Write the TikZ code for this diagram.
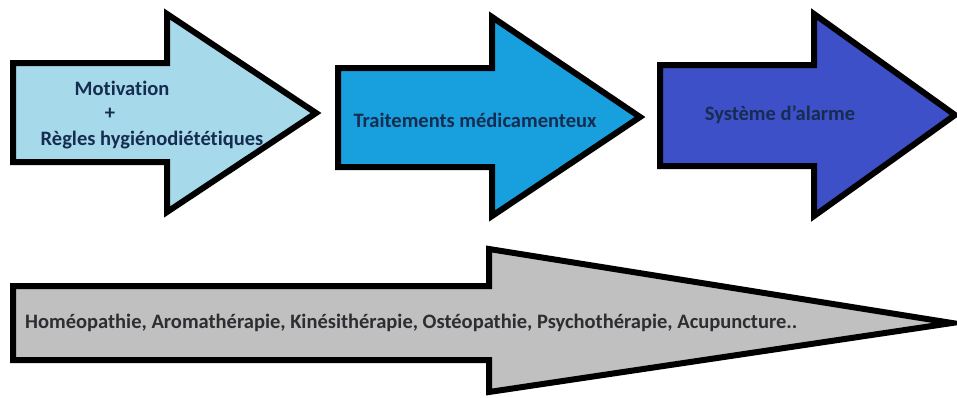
\documentclass[tikz,border=0pt]{standalone}
\usepackage{fontspec}
\setmainfont{Carlito}[Ligatures={NoCommon,NoDiscretionary}]
\definecolor{paleblue}{RGB}{166,217,234}
\definecolor{midblue}{RGB}{24,160,222}
\definecolor{deepblue}{RGB}{62,80,200}
\definecolor{lightgrey}{RGB}{192,192,192}
\definecolor{navytext}{RGB}{22,44,80}
\definecolor{greytext}{RGB}{45,45,50}
\begin{document}
\begin{tikzpicture}[x=1pt,y=-1pt,
  blockarrow/.style={draw=black, line width=6pt, line join=miter, miter limit=10},
  caption/.style={font=\bfseries\fontsize{20.5}{23}\selectfont, text=navytext, inner sep=0pt},
  longcaption/.style={font=\bfseries\fontsize{20.5}{23}\selectfont, text=greytext, inner sep=0pt, anchor=west}]
\useasboundingbox (0,0) rectangle (957,397);
\fill[white] (0,0) rectangle (957,397);
% first step: light blue arrow
\draw[blockarrow, fill=paleblue] (13,63) -- (167,63) -- (167,14) -- (316,113)
  -- (167,212) -- (167,162) -- (13,162) -- cycle;
% second step
\draw[blockarrow, fill=midblue] (338,68) -- (492,68) -- (492,17) -- (640,117)
  -- (492,216) -- (492,167) -- (338,167) -- cycle;
% third step
\draw[blockarrow, fill=deepblue] (660,65) -- (814,65) -- (814,14) -- (955,115)
  -- (814,216) -- (814,166) -- (660,166) -- cycle;
% long arrow of complementary therapies
\draw[blockarrow, fill=lightgrey] (13,286) -- (489,286) -- (489,249) -- (952,323)
  -- (489,392) -- (489,360) -- (13,360) -- cycle;
% labels
\node[caption] (motiv) at (122,88) {Motivation};
\node[caption] (plus) at (110,114) {+};
\node[caption] (regles) at (152,140) {Règles hygiénodiététiques};
\node[caption] (trait) at (475,120) {Traitements médicamenteux};
\node[caption] (alarm) at (780,115) {Système d'alarme};
\node[longcaption] (thera) at (25,323) {Homéopathie, Aromathérapie, Kinésithérapie, Ostéopathie, Psychothérapie, Acupuncture..};
\end{tikzpicture}
\end{document}
